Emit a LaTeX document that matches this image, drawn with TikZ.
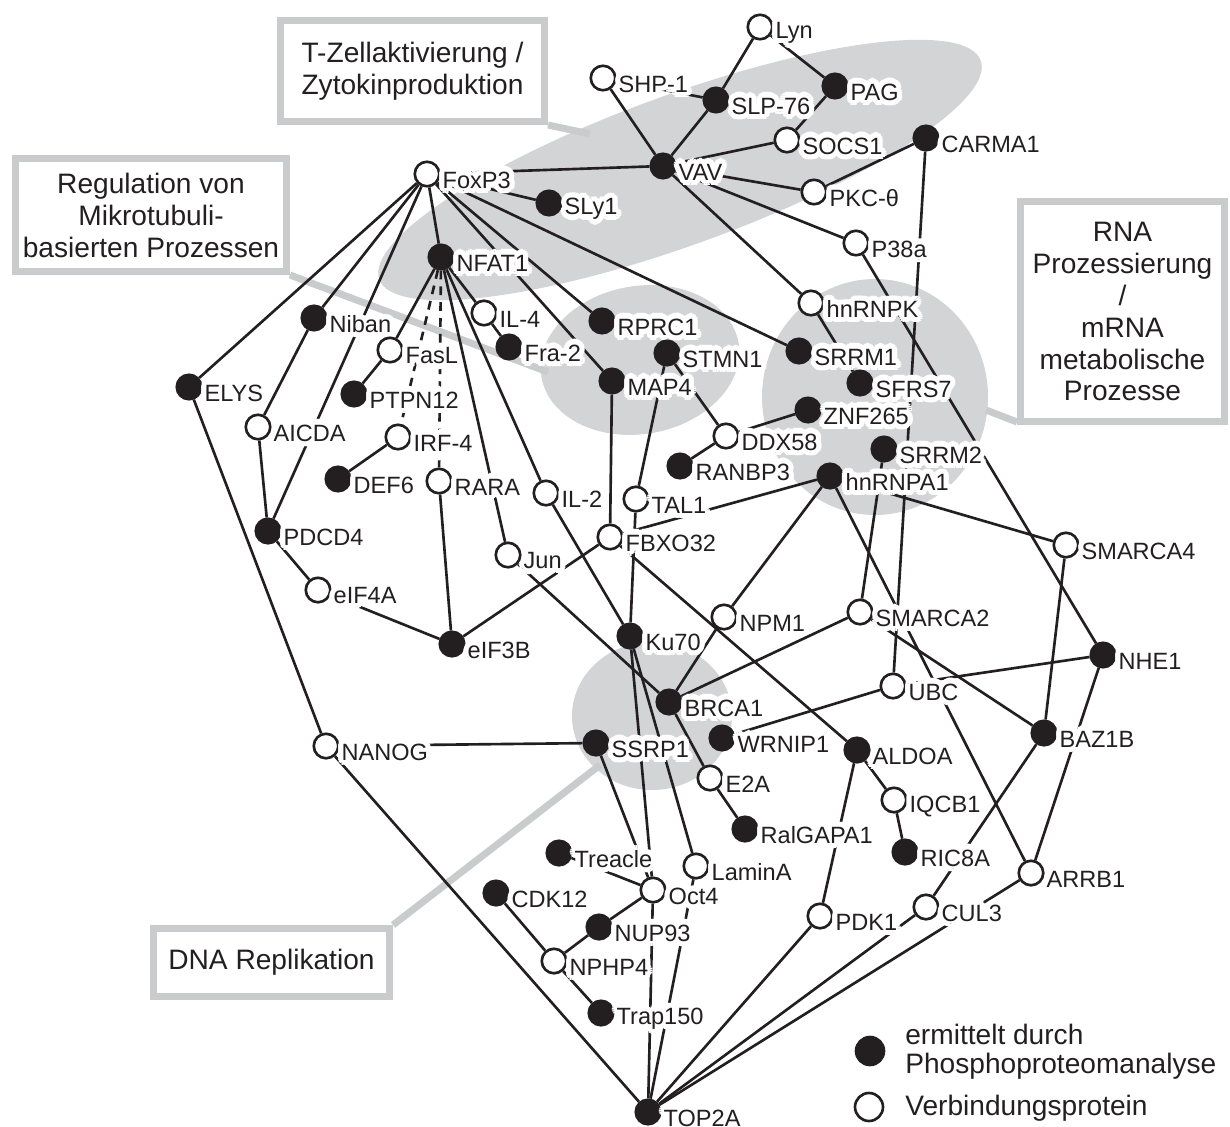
\documentclass[tikz,border=0pt]{standalone}
\usepackage{fontspec}
\setmainfont{Liberation Sans}
\usepackage{tikz}
\definecolor{InkBlack}{HTML}{231F20}
\definecolor{ShadeGray}{HTML}{D3D4D6}
\definecolor{FrameGray}{HTML}{CACBCD}
\newcommand{\halocopy}[3]{\makebox[0pt][l]{\kern#1\raisebox{#2}{\textcolor{white}{#3}}}}
\newcommand{\halo}[1]{%
  \halocopy{3pt}{0pt}{#1}\halocopy{-3pt}{0pt}{#1}\halocopy{0pt}{3pt}{#1}\halocopy{0pt}{-3pt}{#1}%
  \halocopy{2.1pt}{2.1pt}{#1}\halocopy{-2.1pt}{2.1pt}{#1}\halocopy{2.1pt}{-2.1pt}{#1}\halocopy{-2.1pt}{-2.1pt}{#1}%
  \halocopy{2.8pt}{1.15pt}{#1}\halocopy{-2.8pt}{1.15pt}{#1}\halocopy{2.8pt}{-1.15pt}{#1}\halocopy{-2.8pt}{-1.15pt}{#1}%
  \halocopy{1.15pt}{2.8pt}{#1}\halocopy{-1.15pt}{2.8pt}{#1}\halocopy{1.15pt}{-2.8pt}{#1}\halocopy{-1.15pt}{-2.8pt}{#1}%
  \halocopy{1.5pt}{0pt}{#1}\halocopy{-1.5pt}{0pt}{#1}\halocopy{0pt}{1.5pt}{#1}\halocopy{0pt}{-1.5pt}{#1}%
  \halocopy{1.1pt}{1.1pt}{#1}\halocopy{-1.1pt}{1.1pt}{#1}\halocopy{1.1pt}{-1.1pt}{#1}\halocopy{-1.1pt}{-1.1pt}{#1}%
  #1}
\pgfdeclarelayer{shade}
\pgfdeclarelayer{edges}
\pgfsetlayers{shade,edges,main}

\begin{document}
\begin{tikzpicture}[
    x=0.02cm,y=-0.02cm,
    label distance=1pt,
    ph/.style={circle,draw=InkBlack,fill=InkBlack,line width=1.5pt,minimum size=0.49cm,inner sep=0pt},
    vb/.style={ph,fill=white},
    lab/.style={font=\fontsize{13.4}{15}\selectfont,text=InkBlack,inner sep=0pt,yshift=-0.12cm},
    link/.style={line width=1.5pt,draw=InkBlack},
    dlink/.style={link,dash pattern=on 5pt off 4pt},
    frame/.style={draw=FrameGray,line width=4pt,fill=white,align=center,text=InkBlack,font=\fontsize{16}{18.2}\selectfont},
    callout/.style={draw=FrameGray,line width=4pt},
    legtext/.style={anchor=west,inner sep=0pt,align=left,text=InkBlack,font=\fontsize{16}{16.4}\selectfont}
  ]
    \useasboundingbox (0,0) rectangle (1230,1126);

    \node[vb,label={[lab]east:\halo{Lyn}}] (lyn) at (760,27) {};
    \node[vb,label={[lab]east:\halo{SHP-1}}] (shp1) at (603,78) {};
    \node[ph,label={[lab]east:\halo{SLP-76}}] (slp76) at (716,100) {};
    \node[ph,label={[lab]east:\halo{PAG}}] (pag) at (835,86) {};
    \node[vb,label={[lab]east:\halo{SOCS1}}] (socs1) at (787,140) {};
    \node[ph,label={[lab]east:\halo{CARMA1}}] (carma1) at (926,138) {};
    \node[ph,label={[lab]east:\halo{VAV}}] (vav) at (663,166) {};
    \node[vb,label={[lab]east:\halo{FoxP3}}] (foxp3) at (427,174) {};
    \node[ph,label={[lab]east:\halo{SLy1}}] (sly1) at (549,203) {};
    \node[vb,label={[lab]east:\halo{PKC-θ}}] (pkc) at (814,192) {};
    \node[vb,label={[lab]east:\halo{P38a}}] (p38a) at (856,243) {};
    \node[ph,label={[lab]east:\halo{NFAT1}}] (nfat1) at (441,257) {};
    \node[vb,label={[lab]east:\halo{hnRNPK}}] (hnrnpk) at (811,303) {};
    \node[vb,label={[lab]east:\halo{IL-4}}] (il4) at (484,313) {};
    \node[ph,label={[lab]east:\halo{Niban}}] (niban) at (314,318) {};
    \node[ph,label={[lab]east:\halo{RPRC1}}] (rprc1) at (602,321) {};
    \node[ph,label={[lab]east:\halo{Fra-2}}] (fra2) at (509,347) {};
    \node[vb,label={[lab]east:\halo{FasL}}] (fasl) at (390,350) {};
    \node[ph,label={[lab]east:\halo{SRRM1}}] (srrm1) at (799,351) {};
    \node[ph,label={[lab]east:\halo{STMN1}}] (stmn1) at (667,353) {};
    \node[ph,label={[lab]east:\halo{ELYS}}] (elys) at (189,387) {};
    \node[ph,label={[lab]east:\halo{PTPN12}}] (ptpn12) at (354,394) {};
    \node[ph,label={[lab]east:\halo{MAP4}}] (map4) at (612,381) {};
    \node[ph,label={[lab]east:\halo{SFRS7}}] (sfrs7) at (860,383) {};
    \node[ph,label={[lab]east:\halo{ZNF265}}] (znf265) at (808,410) {};
    \node[vb,label={[lab]east:\halo{AICDA}}] (aicda) at (258,427) {};
    \node[vb,label={[lab]east:\halo{IRF-4}}] (irf4) at (398,437) {};
    \node[vb,label={[lab]east:\halo{DDX58}}] (ddx58) at (726,436) {};
    \node[ph,label={[lab]east:\halo{SRRM2}}] (srrm2) at (884,449) {};
    \node[ph,label={[lab]east:\halo{DEF6}}] (def6) at (338,479) {};
    \node[vb,label={[lab]east:\halo{RARA}}] (rara) at (439,481) {};
    \node[ph,label={[lab]east:\halo{RANBP3}}] (ranbp3) at (680,466) {};
    \node[ph,label={[lab]east:\halo{hnRNPA1}}] (hnrnpa1) at (830,476) {};
    \node[vb,label={[lab]east:\halo{IL-2}}] (il2) at (546,493) {};
    \node[vb,label={[lab]east:\halo{TAL1}}] (tal1) at (636,499) {};
    \node[ph,label={[lab]east:\halo{PDCD4}}] (pdcd4) at (268,531) {};
    \node[vb,label={[lab]east:\halo{FBXO32}}] (fbxo32) at (610,537) {};
    \node[vb,label={[lab]east:\halo{SMARCA4}}] (smarca4) at (1066,545) {};
    \node[vb,label={[lab]east:\halo{Jun}}] (jun) at (508,555) {};
    \node[vb,label={[lab]east:\halo{eIF4A}}] (eif4a) at (318,590) {};
    \node[vb,label={[lab]east:\halo{NPM1}}] (npm1) at (724,617) {};
    \node[vb,label={[lab]east:\halo{SMARCA2}}] (smarca2) at (860,612) {};
    \node[ph,label={[lab]east:\halo{Ku70}}] (ku70) at (630,636) {};
    \node[ph,label={[lab]east:\halo{eIF3B}}] (eif3b) at (452,644) {};
    \node[ph,label={[lab]east:\halo{NHE1}}] (nhe1) at (1103,655) {};
    \node[vb,label={[lab]east:\halo{UBC}}] (ubc) at (893,686) {};
    \node[ph,label={[lab]east:\halo{BRCA1}}] (brca1) at (669,702) {};
    \node[ph,label={[lab]east:\halo{SSRP1}}] (ssrp1) at (596,743) {};
    \node[ph,label={[lab]east:\halo{WRNIP1}}] (wrnip1) at (722,738) {};
    \node[vb,label={[lab]east:\halo{NANOG}}] (nanog) at (326,746) {};
    \node[ph,label={[lab]east:\halo{BAZ1B}}] (baz1b) at (1044,733) {};
    \node[ph,label={[lab]east:\halo{ALDOA}}] (aldoa) at (857,750) {};
    \node[vb,label={[lab]east:\halo{E2A}}] (e2a) at (710,778) {};
    \node[vb,label={[lab]east:\halo{IQCB1}}] (iqcb1) at (894,800) {};
    \node[ph,label={[lab]east:\halo{RalGAPA1}}] (ralgapa1) at (745,829) {};
    \node[ph,label={[lab]east:\halo{RIC8A}}] (ric8a) at (905,852) {};
    \node[ph,label={[lab]east:\halo{Treacle}}] (treacle) at (559,853) {};
    \node[vb,label={[lab]east:\halo{LaminA}}] (lamina) at (696,866) {};
    \node[vb,label={[lab]east:\halo{ARRB1}}] (arrb1) at (1031,873) {};
    \node[ph,label={[lab]east:\halo{CDK12}}] (cdk12) at (496,893) {};
    \node[vb,label={[lab]east:\halo{Oct4}}] (oct4) at (653,890) {};
    \node[ph,label={[lab]east:\halo{NUP93}}] (nup93) at (599,927) {};
    \node[vb,label={[lab]east:\halo{PDK1}}] (pdk1) at (820,916) {};
    \node[vb,label={[lab]east:\halo{CUL3}}] (cul3) at (926,907) {};
    \node[vb,label={[lab]east:\halo{NPHP4}}] (nphp4) at (554,961) {};
    \node[ph,label={[lab]east:\halo{Trap150}}] (trap150) at (601,1013) {};
    \node[ph,label={[lab]east:\halo{TOP2A}}] (top2a) at (648,1112) {};

    \node[frame,minimum width=5.28cm,minimum height=2.02cm] (tzbox) at (412.5,71) {T-Zellaktivierung /\\Zytokinproduktion};
    \node[frame,minimum width=5.42cm,minimum height=2.26cm] (mtbox) at (151,215) {Regulation von\\Mikrotubuli-\\basierten Prozessen};
    \node[frame,minimum width=4.08cm,minimum height=4.4cm] (rnabox) at (1122.5,311.5) {RNA\\Prozessierung\\/\\mRNA\\metabolische\\Prozesse};
    \node[frame,minimum width=4.72cm,minimum height=1.36cm] (dnabox) at (271.5,962.5) {DNA Replikation};

    \node[ph,minimum size=0.56cm] (legph) at (870,1051) {};
    \node[legtext] (legphtext) at (905,1052) {ermittelt durch\\Phosphoproteomanalyse};
    \node[vb,minimum size=0.56cm] (legvb) at (869,1107) {};
    \node[legtext] (legvbtext) at (905,1108) {Verbindungsprotein};

    \coordinate (tztip) at (590,134);
    \coordinate (mttip) at (548,372);
    \coordinate (rnatip) at (986,410);
    \coordinate (dnatip) at (600,765);

    \begin{pgfonlayer}{shade}
      \fill[ShadeGray,rotate around={20:(680,170)}] (680,170) ellipse (320 and 75);
      \fill[ShadeGray,rotate around={10:(640,360)}] (640,360) ellipse (100 and 74);
      \fill[ShadeGray] (875,397) ellipse (113 and 118);
      \fill[ShadeGray] (652,716) ellipse (80 and 74);
      \draw[callout] (tzbox.south east) -- (tztip);
      \draw[callout] (mtbox.south east) -- (mttip);
      \draw[callout] (rnabox.south west) ++(0,-3) -- (rnatip);
      \draw[callout] (dnabox.north east) -- (dnatip);
    \end{pgfonlayer}

    \begin{pgfonlayer}{edges}
      \foreach \a/\b in {foxp3/vav,foxp3/sly1,foxp3/nfat1,foxp3/elys,foxp3/niban,foxp3/pdcd4,
          foxp3/rprc1,foxp3/map4,foxp3/srrm1,
          vav/shp1,vav/slp76,vav/socs1,vav/pkc,vav/p38a,vav/hnrnpk,
          slp76/lyn,slp76/shp1,lyn/pag,pag/socs1,carma1/pkc,carma1/ubc,p38a/nhe1,hnrnpk/sfrs7,
          nfat1/il4,nfat1/fasl,nfat1/jun,nfat1/il2,il4/fra2,fasl/ptpn12,irf4/def6,rara/eif3b,
          elys/nanog,niban/aicda,aicda/pdcd4,pdcd4/eif4a,eif4a/eif3b,eif3b/fbxo32,
          jun/brca1,il2/ku70,map4/fbxo32,stmn1/tal1,stmn1/ddx58,ddx58/znf265,ddx58/ranbp3,
          tal1/ku70,fbxo32/hnrnpa1,fbxo32/aldoa,hnrnpa1/npm1,hnrnpa1/smarca4,hnrnpa1/arrb1,
          srrm2/smarca2,npm1/brca1,smarca2/brca1,smarca2/baz1b,ubc/nhe1,ubc/wrnip1,
          smarca4/baz1b,nhe1/arrb1,baz1b/cul3,brca1/e2a,e2a/ralgapa1,ku70/oct4,ku70/lamina,
          ssrp1/nanog,ssrp1/oct4,aldoa/iqcb1,aldoa/pdk1,iqcb1/ric8a,treacle/oct4,
          oct4/nup93,oct4/top2a,nup93/nphp4,cdk12/nphp4,nphp4/trap150,lamina/top2a,
          nanog/top2a,pdk1/top2a,cul3/top2a,arrb1/top2a}
        \draw[link] (\a) -- (\b);
      \draw[dlink] (nfat1) -- (irf4);
      \draw[dlink] (nfat1) -- (rara);
    \end{pgfonlayer}
  \end{tikzpicture}
\end{document}
